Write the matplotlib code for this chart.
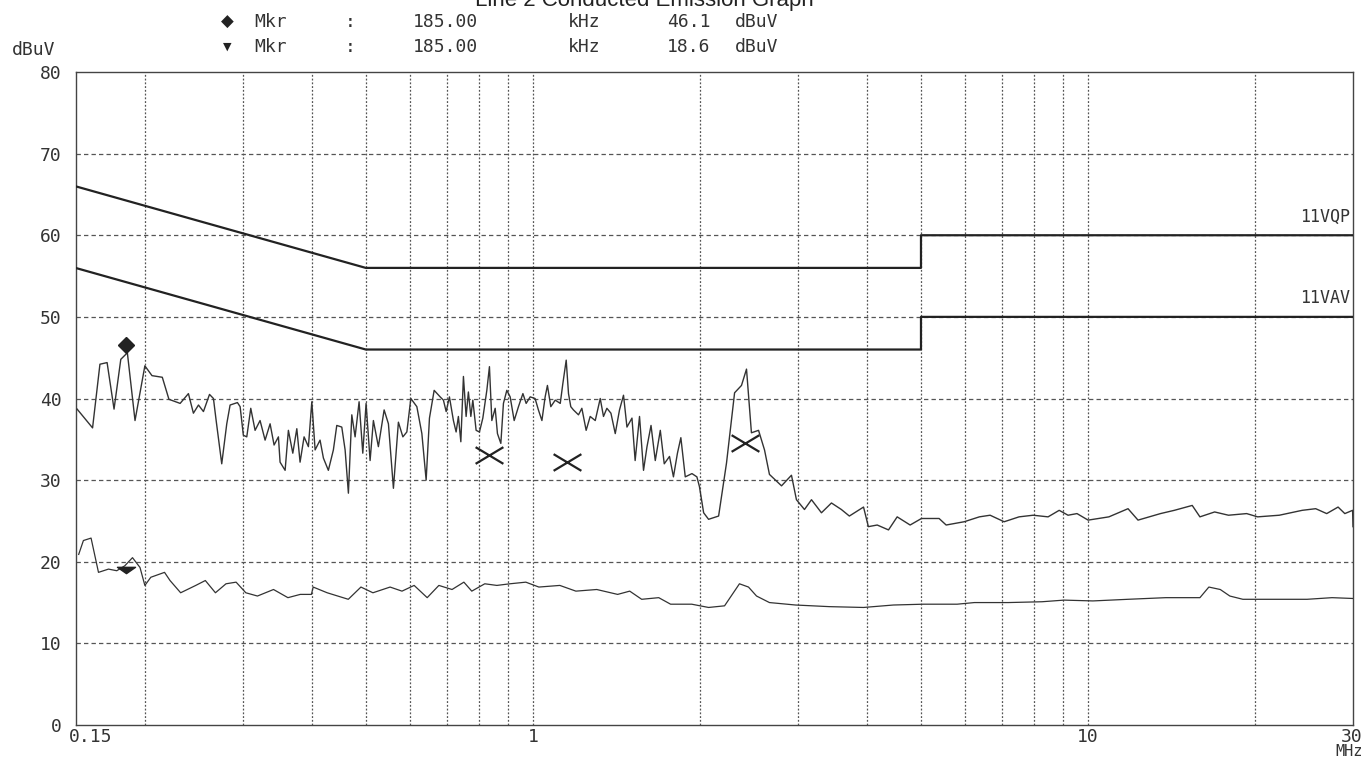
import matplotlib.pyplot as plt
from matplotlib.path import Path

# peak detector trace (MHz, dBuV)
pk_freq = [0.151, 0.161, 0.166, 0.171, 0.176, 0.181, 0.186, 0.192, 0.200, 0.206,
           0.215, 0.221,
           0.2315, 0.2396, 0.2446, 0.2498, 0.2550, 0.2615, 0.2658, 0.2688, 0.2751, 0.2809,
           0.2848, 0.2936, 0.2969, 0.3009, 0.3052, 0.3103, 0.3159, 0.3225, 0.3293, 0.3362,
           0.3418, 0.3480, 0.3504, 0.3578, 0.3627, 0.3694, 0.3756, 0.3807, 0.3871, 0.3941,
           0.3997, 0.4052, 0.4136, 0.4194, 0.4281, 0.4371, 0.4433, 0.4526, 0.4589, 0.4652,
           0.4718, 0.4783, 0.4863, 0.4938, 0.5006, 0.5090, 0.5160, 0.5268, 0.5395, 0.5492,
           0.5607, 0.5724, 0.5831, 0.5928, 0.6027, 0.6179, 0.6309, 0.6422, 0.6511, 0.6639,
           0.6806,
           0.6899, 0.6978, 0.7073, 0.7191, 0.7272, 0.7341, 0.7416, 0.7496, 0.7580, 0.7652,
           0.7730, 0.7794, 0.7901, 0.8011, 0.8124, 0.8260, 0.8350, 0.8433, 0.8551, 0.8632,
           0.8754, 0.8849, 0.8974, 0.9099, 0.9252, 0.9418, 0.9593, 0.9723, 0.9887, 1.009,
           1.023, 1.038, 1.052, 1.062, 1.077, 1.097, 1.120, 1.132, 1.148, 1.159,
           1.170, 1.183, 1.208, 1.225, 1.247, 1.268, 1.295, 1.322, 1.340, 1.359,
           1.382, 1.407, 1.432, 1.456, 1.477, 1.508, 1.528, 1.556, 1.582, 1.605,
           1.632, 1.661, 1.696, 1.724, 1.762, 1.791, 1.821, 1.847, 1.881, 1.934,
           1.974, 1.995,
           2.030, 2.072, 2.160, 2.232, 2.308, 2.375, 2.425, 2.475,
           2.549, 2.613, 2.667, 2.804, 2.922, 2.983, 3.084, 3.175, 3.309, 3.449,
           3.594, 3.715, 3.94, 4.02, 4.17, 4.37, 4.53, 4.78, 5.01, 5.39,
           5.55, 5.98, 6.37, 6.66, 7.06, 7.51, 7.96, 8.47, 8.87, 9.20,
           9.55, 10.0, 10.9, 11.8, 12.3, 13.5, 14.3, 15.4, 15.9, 16.9,
           17.9, 19.3, 20.2, 22.1, 24.3, 25.7, 26.9, 28.2, 29.0, 29.95, 30.0]
pk_level = [38.7, 36.4, 44.2, 44.4, 38.7, 44.8, 45.6, 37.3, 44.0, 42.8,
            42.6, 39.9,
            39.4, 40.6, 38.2, 39.2, 38.4, 40.5, 40.0, 37.3, 32.0, 36.9,
            39.2, 39.5, 39.0, 35.5, 35.3, 38.8, 36.1, 37.3, 34.9, 36.9,
            34.3, 35.3, 32.2, 31.2, 36.1, 33.3, 36.3, 32.2, 35.3, 34.1,
            39.6, 33.7, 34.9, 32.7, 31.2, 33.7, 36.7, 36.5, 33.7, 28.4,
            38.0, 35.3, 39.6, 33.3, 39.4, 32.4, 37.3, 34.1, 38.6, 36.9,
            29.0, 37.1, 35.3, 35.9, 40.0, 39.0, 35.7, 30.0, 37.6, 41.0,
            40.2,
            39.8, 38.4, 40.2, 37.3, 35.9, 37.8, 34.7, 42.7, 37.8, 40.8,
            37.8, 39.8, 36.1, 35.9, 37.6, 41.0, 43.9, 37.3, 38.8, 35.7,
            34.5, 39.4, 41.0, 40.2, 37.3, 39.0, 40.6, 39.4, 40.2, 40.0,
            38.6, 37.3, 40.2, 41.6, 39.0, 39.8, 39.4, 41.8, 44.7, 40.6,
            39.0, 38.6, 38.0, 38.8, 36.1, 37.8, 37.3, 40.0, 37.8, 38.8,
            38.2, 35.7, 38.6, 40.4, 36.5, 37.6, 32.4, 37.8, 31.2, 34.1,
            36.7, 32.4, 36.1, 32.0, 32.9, 30.4, 33.3, 35.2, 30.4, 30.8,
            30.4, 29.2,
            26.0, 25.2, 25.6, 32.1, 40.7, 41.6, 43.6, 35.8,
            36.1, 33.7, 30.7, 29.3, 30.6, 27.6, 26.4, 27.6, 26.0, 27.2,
            26.4, 25.6, 26.7, 24.3, 24.5, 23.9, 25.5, 24.5, 25.3, 25.3,
            24.5, 24.9, 25.5, 25.7, 24.9, 25.5, 25.7, 25.5, 26.3, 25.7,
            25.9, 25.1, 25.5, 26.5, 25.1, 25.9, 26.3, 26.9, 25.5, 26.1,
            25.7, 25.9, 25.5, 25.7, 26.3, 26.5, 25.9, 26.7, 25.9, 26.3, 24.3]

# average detector trace
av_freq = [0.152, 0.155, 0.160, 0.165, 0.172, 0.178, 0.184, 0.190, 0.196, 0.200,
           0.205, 0.217, 0.222, 0.232, 0.247, 0.257, 0.268, 0.280, 0.292, 0.304,
           0.319, 0.341, 0.362, 0.381, 0.399, 0.402, 0.426, 0.465, 0.490, 0.515,
           0.553, 0.581, 0.611, 0.645, 0.677, 0.715, 0.751, 0.776, 0.819, 0.861,
           0.909, 0.971, 1.025, 1.118, 1.195, 1.303, 1.421, 1.494, 1.570, 1.685,
           1.770, 1.932, 2.072, 2.214, 2.355, 2.445, 2.528, 2.667, 2.971, 3.42,
           3.94, 4.46, 5.05, 5.81, 6.24, 7.18, 8.26, 9.05, 10.2, 11.8,
           13.8, 15.9, 16.5, 17.3, 18.0, 19.0, 21.9, 24.8, 27.5, 30.0]
av_level = [20.9, 22.6, 22.9, 18.7, 19.1, 18.9, 19.5, 20.5, 19.3, 17.1,
            18.1, 18.7, 17.7, 16.2, 17.1, 17.7, 16.2, 17.3, 17.5, 16.2,
            15.8, 16.6, 15.6, 16.0, 16.0, 16.9, 16.2, 15.4, 16.9, 16.2,
            16.9, 16.4, 17.1, 15.6, 17.1, 16.6, 17.5, 16.4, 17.3, 17.1,
            17.3, 17.5, 16.9, 17.1, 16.4, 16.6, 16.0, 16.4, 15.4, 15.6,
            14.8, 14.8, 14.4, 14.6, 17.3, 16.9, 15.8, 15.0, 14.7, 14.5,
            14.4, 14.7, 14.8, 14.8, 15.0, 15.0, 15.1, 15.3, 15.2, 15.4,
            15.6, 15.6, 16.9, 16.6, 15.8, 15.4, 15.4, 15.4, 15.6, 15.5]

# limit lines
qp_lim_freq = [0.15, 0.5, 5, 5, 30]
qp_lim_level = [66, 56, 56, 60, 60]
av_lim_freq = [0.15, 0.5, 5, 5, 30]
av_lim_level = [56, 46, 46, 50, 50]

# quasi-peak measurement points (x marks)
qp_pt_freq = [0.834, 1.152, 2.41]
qp_pt_level = [33.1, 32.2, 34.5]

mkr_freq = 0.185
mkr_pk = 46.6
mkr_av = 19.0

W, H = 1369, 761
mono = 'DejaVu Sans Mono'
ink = '#333333'

fig = plt.figure(figsize=(W / 100, H / 100), dpi=100)
fig.patch.set_facecolor('white')
ax = fig.add_axes([75.5 / W, 1 - 725 / H, (1353 - 75.5) / W, (725 - 72) / H])

ax.set_xscale('log')
ax.set_xlim(0.15, 30)
ax.set_ylim(0, 80)

# grid
for f in [0.2, 0.3, 0.4, 0.5, 0.6, 0.7, 0.8, 0.9, 1, 2, 3, 4, 5, 6, 7, 8, 9, 10, 20]:
    ax.axvline(f, color='#555555', lw=0.9, ls=(0, (1.5, 1.5)), zorder=1)
for v in range(10, 80, 10):
    ax.axhline(v, color='#555555', lw=0.9, ls=(0, (3.5, 2.5)), zorder=1)

ax.plot(qp_lim_freq, qp_lim_level, color='#222222', lw=1.6, zorder=3)
ax.plot(av_lim_freq, av_lim_level, color='#222222', lw=1.6, zorder=3)

ax.plot(pk_freq, pk_level, color=ink, lw=1.0, zorder=4)
ax.plot(av_freq, av_level, color=ink, lw=0.9, zorder=4)

xmark = Path([(-1, -0.6), (1, 0.6), (-1, 0.6), (1, -0.6)],
             [Path.MOVETO, Path.LINETO, Path.MOVETO, Path.LINETO])
ax.plot(qp_pt_freq, qp_pt_level, ls='none', marker=xmark, ms=20,
        mec='#222222', mew=1.6, zorder=5)

tri = Path([(-1, 0.35), (1, 0.35), (0, -0.35), (-1, 0.35)],
           [Path.MOVETO, Path.LINETO, Path.LINETO, Path.CLOSEPOLY])
ax.plot([mkr_freq], [mkr_pk], ls='none', marker='D', ms=8, color='#222222', zorder=6)
ax.plot([mkr_freq], [mkr_av], ls='none', marker=tri, ms=13, color='#222222', zorder=6)

for s in ax.spines.values():
    s.set_color('#444444')
    s.set_linewidth(1.0)

# ticks
ax.set_yticks(range(0, 90, 10))
ax.set_yticklabels([str(v) for v in range(0, 90, 10)], family=mono, fontsize=13, color=ink)
ax.tick_params(axis='y', length=0, pad=10)
ax.set_xticks([])
ax.minorticks_off()

for lab, f, dx in [('0.15', 0.15, 11), ('1', 1, 0), ('10', 10, 0), ('30', 30, -1)]:
    ax.annotate(lab, xy=(f, 0), xycoords=('data', 'axes fraction'), xytext=(dx, -9),
                textcoords='offset points', ha='center', va='center',
                family=mono, fontsize=13, color=ink)
ax.annotate('MHz', xy=(30, 0), xycoords=('data', 'axes fraction'), xytext=(-3, -19),
            textcoords='offset points', ha='center', va='center',
            family=mono, fontsize=11, color=ink)

# limit labels
ax.annotate('11VQP', xy=(30, 60), xytext=(-2, 7), textcoords='offset points',
            ha='right', va='bottom', family=mono, fontsize=12, color=ink)
ax.annotate('11VAV', xy=(30, 50), xytext=(-2, 7), textcoords='offset points',
            ha='right', va='bottom', family=mono, fontsize=12, color=ink)

# header (title is cut by the top edge in the scan)
fig.text(644 / W, 1 - 6 / H, 'Line 2 Conducted Emission Graph', ha='center',
         va='baseline', family='Liberation Sans', fontsize=16, color='#222222')

rows = [(22, '\u25c6', 12, '46.1'), (47, '\u25bc', 8, '18.6')]
for py, sym, ssize, val in rows:
    y = 1 - py / H
    fig.text(227 / W, y, sym, ha='center', va='center', fontsize=ssize, color='#222222')
    for txt, px in [('Mkr', 271), (':', 350), ('185.00', 445), ('kHz', 584),
                    (val, 689), ('dBuV', 757)]:
        fig.text(px / W, y, txt, ha='center', va='center', family=mono,
                 fontsize=13, color=ink)

fig.text(12 / W, 1 - 50 / H, 'dBuV', ha='left', va='center', family=mono,
         fontsize=13, color=ink)

fig.savefig('out.png', dpi=100, facecolor='white')
